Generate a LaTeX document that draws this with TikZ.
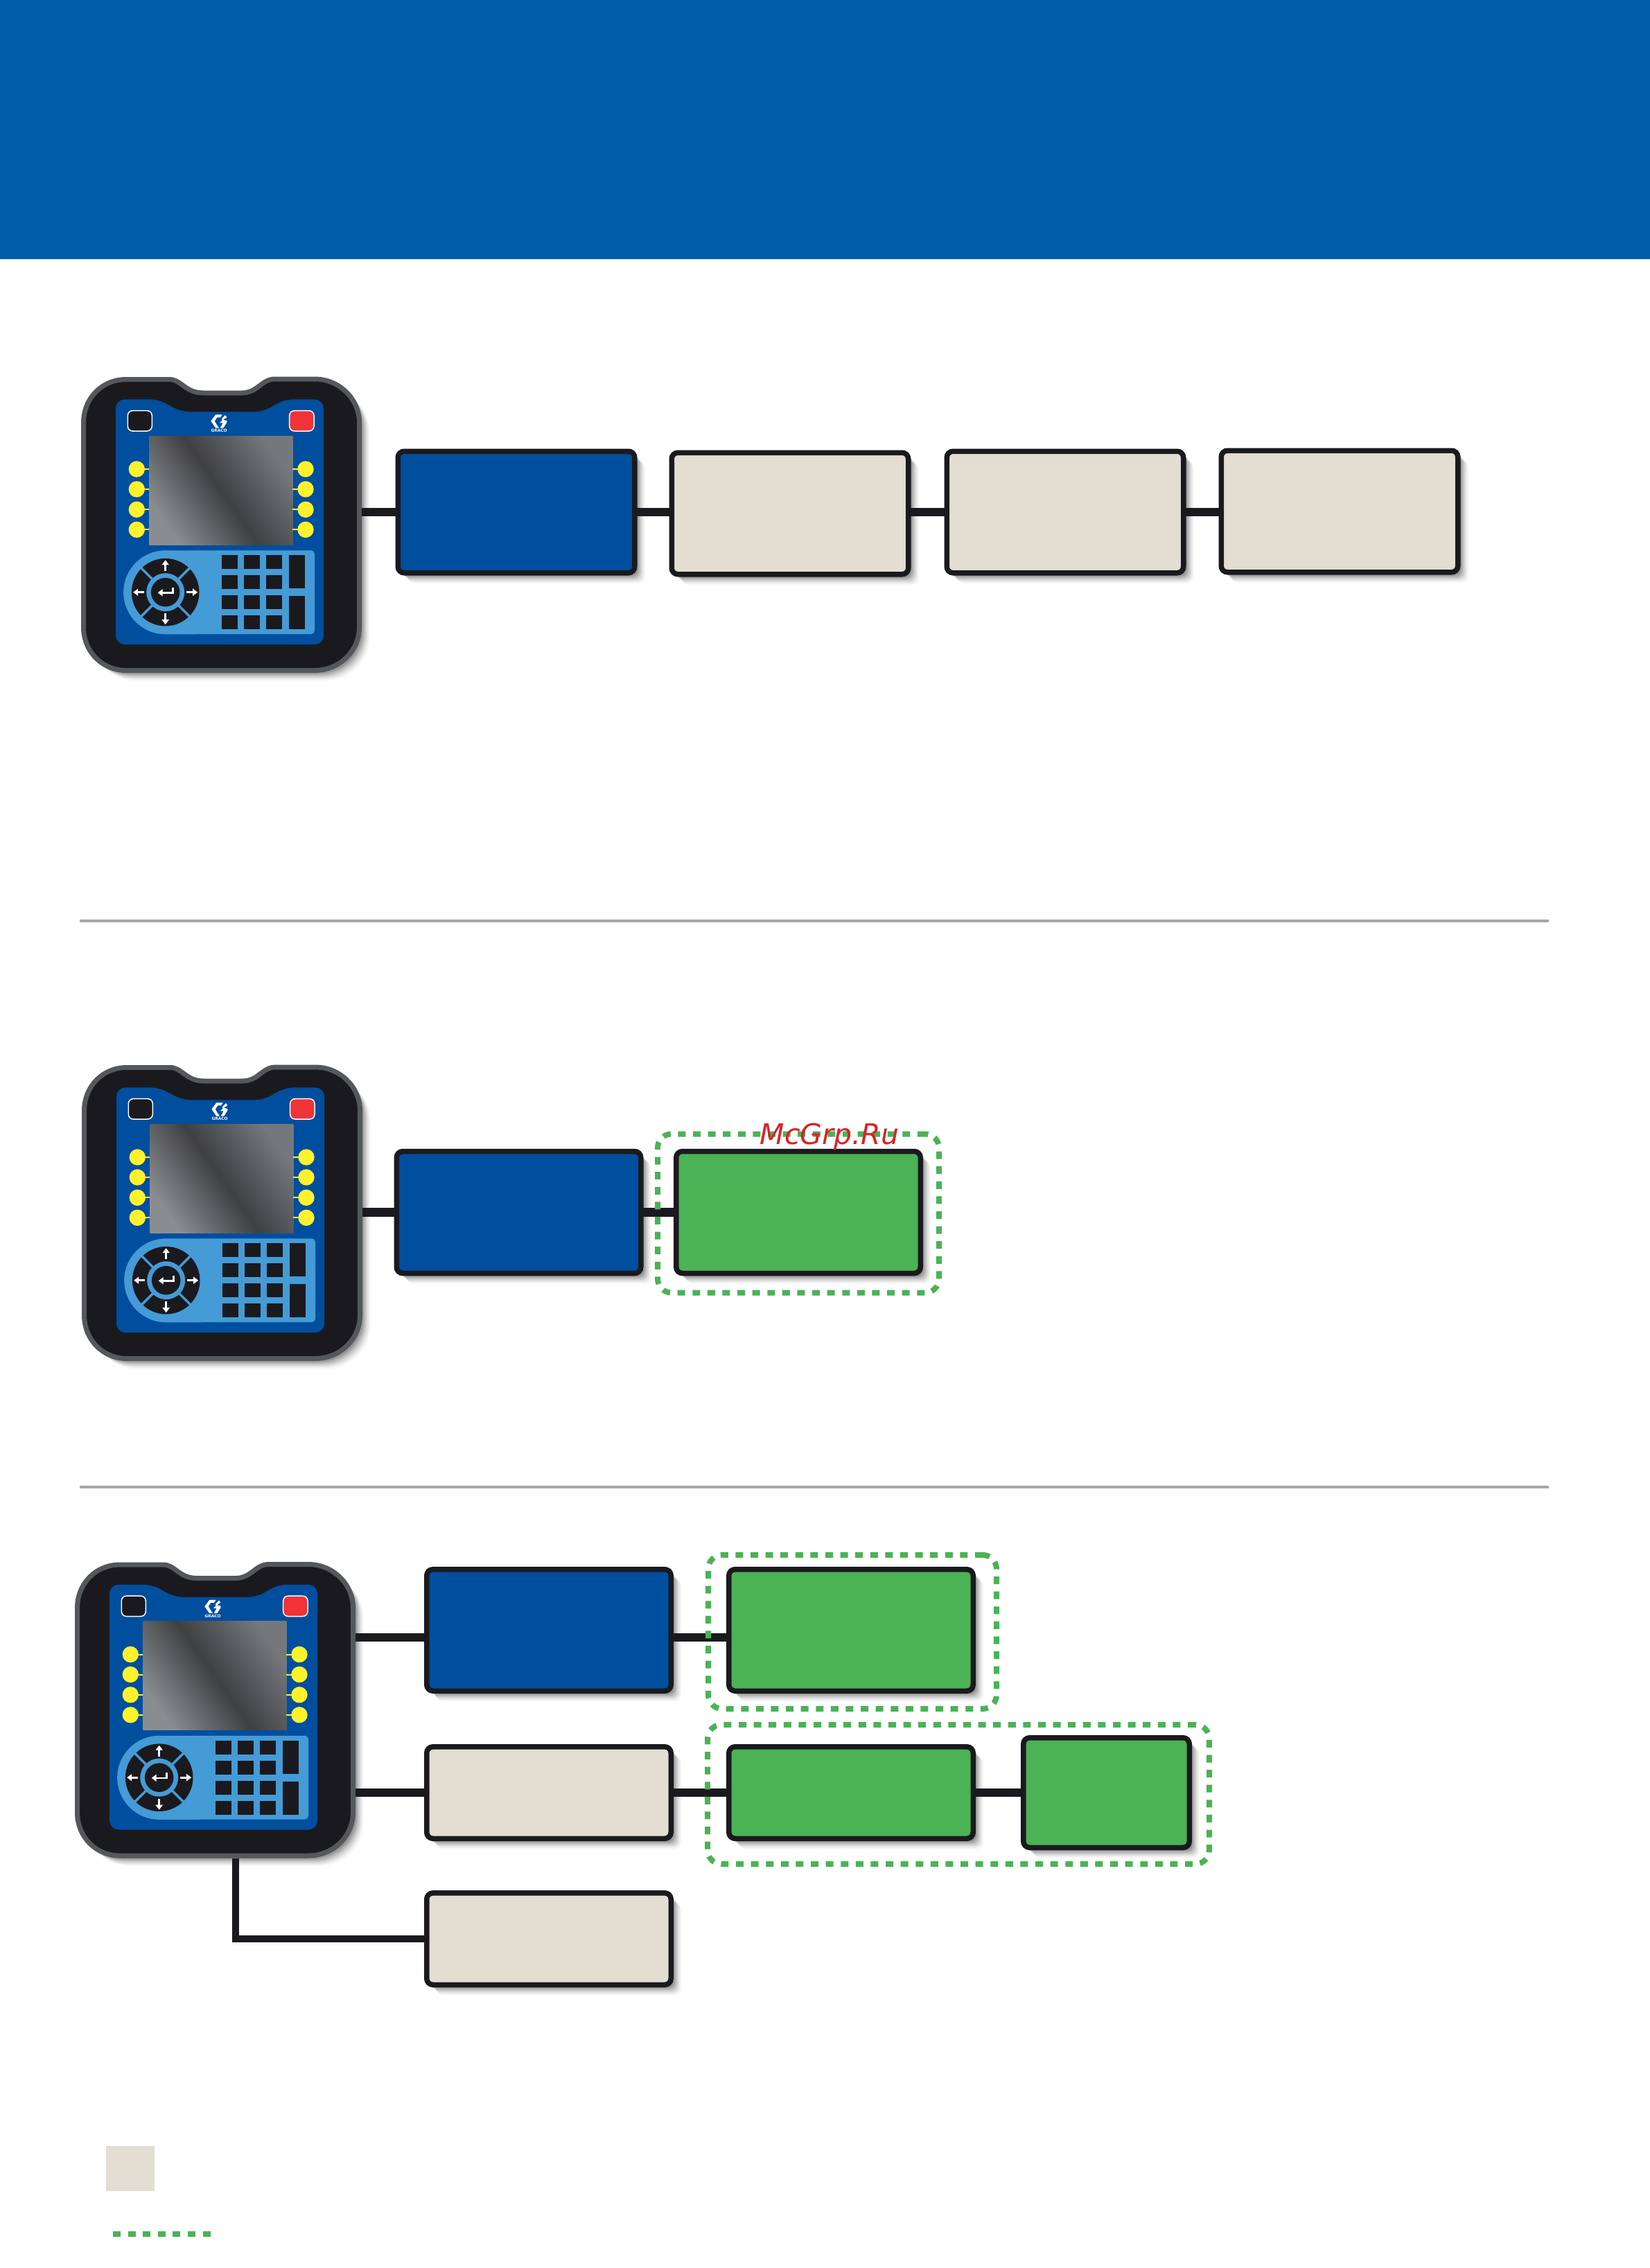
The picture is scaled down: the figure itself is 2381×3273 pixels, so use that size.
\documentclass[tikz,border=0pt]{standalone}
\usepackage{fontspec}
\setmainfont{DejaVu Sans}
\usetikzlibrary{arrows.meta,shadows}
\definecolor{headblue}{HTML}{005DAA}
\definecolor{unitblue}{HTML}{004E9E}
\definecolor{kitgreen}{HTML}{4BB255}
\definecolor{creambox}{HTML}{E3DDD2}
\definecolor{inkblack}{HTML}{1A1A1E}
\definecolor{shellgray}{HTML}{55585B}
\definecolor{keyblue}{HTML}{459BD6}
\definecolor{softkey}{HTML}{FFF22D}
\definecolor{stopred}{HTML}{EF3338}
\definecolor{rulegray}{HTML}{A5A7AA}
\definecolor{markred}{HTML}{D8232A}
\definecolor{screentop}{HTML}{74787B}
\definecolor{screenlow}{HTML}{8A8D90}
\definecolor{screenmid}{HTML}{3E4042}
\tikzset{
softshade/.style={
  general shadow={shadow xshift=3pt,shadow yshift=-3pt,fill=black,opacity=.15},
  general shadow={shadow xshift=5pt,shadow yshift=-5pt,fill=black,opacity=.13},
  general shadow={shadow xshift=7pt,shadow yshift=-7pt,fill=black,opacity=.11},
  general shadow={shadow xshift=9pt,shadow yshift=-9pt,fill=black,opacity=.09},
  general shadow={shadow xshift=11pt,shadow yshift=-11pt,fill=black,opacity=.07},
  general shadow={shadow xshift=13pt,shadow yshift=-13pt,fill=black,opacity=.05},
  general shadow={shadow xshift=15pt,shadow yshift=-15pt,fill=black,opacity=.03}},
modbox/.style={draw=inkblack, line width=7.5pt, rounded corners=9pt, inner sep=0pt, outer sep=0pt, softshade},
bluebox/.style={modbox, fill=unitblue},
creamunit/.style={modbox, fill=creambox},
greenbox/.style={modbox, fill=kitgreen},
kitgroup/.style={draw=kitgreen, line width=8pt, dash pattern=on 11pt off 10.6pt, rounded corners=20pt, inner sep=0pt, outer sep=0pt},
kitline/.style={draw=kitgreen, line width=8pt, dash pattern=on 11pt off 10.6pt},
link/.style={draw=inkblack, line width=12.5pt},
pics/handset/.style={code={
  \node[minimum width=405pt, minimum height=428pt, inner sep=0pt, outer sep=0pt] (-shell) at (202.5,214) {};
  \path[fill=inkblack, draw=shellgray, line width=7pt, softshade] (3.5,67) .. controls (3.5,32) and (30,4.5) .. (65,4.5) -- (127,4.5) .. controls (145,4.5) and (150,24) .. (176,24) -- (232,24) .. controls (255,24) and (260,4) .. (280,4) -- (337,4) .. controls (372,4) and (401.5,32) .. (401.5,67) -- (401.5,362) .. controls (401.5,397) and (372,424.5) .. (337,424.5) -- (65,424.5) .. controls (30,424.5) and (3.5,397) .. (3.5,362) -- cycle;
  % panel
  \fill[unitblue, rounded corners=13pt] (50,33.3) -- (111.7,33.3) -- (144,51.3) -- (263,51.3) -- (293,33.3) -- (350,33.3) -- (350,387) -- (50,387) -- cycle;
  \draw[white, line width=1.5pt, fill=inkblack, rounded corners=7pt] (67.3,49.7) rectangle (102.3,79);
  \draw[white, line width=1.5pt, fill=stopred, rounded corners=7pt] (300.7,49.7) rectangle (336,79);
  % logo
  \fill[white] (187.3,64.7) -- (194.3,55.3) -- (203.7,55.3) -- (201,59.3) -- (196.3,59.3) -- (192.7,64.7) -- (196.3,70.7) -- (199,74.7) -- (194.3,74.7) -- cycle;
  \fill[white] (208,56) -- (210.3,59.3) -- (205,62.7) -- (210.3,64) -- (210.3,66.7) -- (205.3,74.7) -- (200.7,74.7) -- (204.7,67.3) -- (200,67.3) -- (203.3,64) -- (203,61) -- cycle;
  \node[white, inner sep=0pt, font=\bfseries\fontsize{5.8}{5.8}\selectfont] at (199,78.7) {GRACO};
  \shade[top color=screentop, bottom color=screenlow, middle color=screenmid, shading angle=-55] (98.3,86.3) rectangle (305.3,243.3);
  % soft keys
  \foreach \ky in {134,163,192.3,221.3} {
    \draw[softkey, line width=2pt] (80.3,\ky) -- (98.3,\ky);
    \draw[softkey, line width=2pt] (305.3,\ky) -- (324,\ky);
    \fill[softkey] (80.3,\ky) circle[radius=11.7pt];
    \fill[softkey] (324,\ky) circle[radius=11.7pt];
  }
  % keypad
  \fill[keyblue] (121.7,251.3) -- (332,251.3) arc[start angle=90, end angle=0, radius=5pt] -- (337,367) arc[start angle=0, end angle=-90, radius=5pt] -- (121.7,372.3) arc[start angle=270, end angle=90, radius=60.5pt] -- cycle;
  \fill[inkblack] (121.7,311.7) circle[radius=48.8pt];
  \foreach \a in {45,135,225,315}
    \draw[keyblue, line width=3.5pt] (121.7,311.7) -- ++(\a:50pt);
  \fill[keyblue] (121.7,311.7) circle[radius=27.5pt];
  \fill[inkblack] (121.7,311.7) circle[radius=20.8pt];
  \foreach \a in {0,90,180,270}
    \draw[white, line width=2.8pt, -{Triangle[length=7pt,width=10pt]}] (121.7,311.7) ++(\a:30.5pt) -- ++(\a:16pt);
  \draw[white, line width=2.6pt, -{Triangle[length=7pt,width=10pt]}] (132.7,304.7) -- (132.7,312.3) -- (110.7,312.3);
  \foreach \kx in {203.3,235.3,267.3}
    \foreach \ky in {258.3,287.3,316.3,345.3}
      \fill[inkblack] (\kx,\ky) rectangle ++(23,20);
  \fill[inkblack] (300.3,258.3) rectangle (323.3,306.3);
  \fill[inkblack] (300.3,317.3) rectangle (323.3,365.3);
}}
}
\begin{document}
\begin{tikzpicture}[x=1pt,y=-1pt]
\useasboundingbox (0,0) rectangle (2381,3273);
\fill[headblue] (0,0) rectangle (2381,374);
\draw[rulegray, line width=4pt] (115,1329) -- (2235,1329);
\draw[rulegray, line width=4pt] (115,2146) -- (2235,2146);
% top row
\pic (dev1) at (117,543) {handset};
\node[bluebox, minimum width=341.5pt, minimum height=175.5pt] (top1) at (745,739) {};
\node[creamunit, minimum width=341.5pt, minimum height=175.5pt] (top2) at (1140,741) {};
\node[creamunit, minimum width=341.5pt, minimum height=175.5pt] (top3) at (1537,739) {};
\node[creamunit, minimum width=341.5pt, minimum height=175.5pt] (top4) at (1933,738) {};
\draw[link] (top1.west -| dev1-shell.east) -- (top1.west);
\draw[link] (top1.east) -- (top1.east -| top2.west);
\draw[link] (top2.east |- top3.west) -- (top3.west);
\draw[link] (top3.east) -- (top4.west |- top3.east);
% middle row
\pic (dev2) at (118,1536) {handset};
\node[bluebox, minimum width=352.5pt, minimum height=176pt] (mid1) at (748.5,1749.5) {};
\node[greenbox, minimum width=352.5pt, minimum height=176pt] (mid2) at (1152,1749.5) {};
\draw[link] (mid1.west -| dev2-shell.east) -- (mid1.west);
\draw[link] (mid1.east) -- (mid2.west);
\node[kitgroup, minimum width=406pt, minimum height=229pt] (grp1) at (1152,1751) {};
\node[text=markred, font=\itshape\fontsize{41}{41}\selectfont, inner sep=0pt] (mark) at (1197,1641) {McGrp.Ru};
% bottom rows
\pic (dev3) at (108,2253.5) {handset};
\node[bluebox, minimum width=352.5pt, minimum height=175.5pt] (low1) at (792,2352.5) {};
\node[greenbox, minimum width=352.5pt, minimum height=175.5pt] (low2) at (1228,2352.5) {};
\node[creamunit, minimum width=352.5pt, minimum height=132.5pt] (low3) at (792,2587) {};
\node[greenbox, minimum width=352.5pt, minimum height=132.5pt] (low4) at (1228,2587) {};
\node[greenbox, minimum width=239.5pt, minimum height=158.5pt] (low5) at (1596.5,2587) {};
\node[creamunit, minimum width=352.5pt, minimum height=132.5pt] (low6) at (792,2798) {};
\coordinate (drop) at (340,2798);
\draw[link] ([yshift=-10.5pt]low1.west -| dev3-shell.east) -- ([yshift=-10.5pt]low1.west);
\draw[link] ([yshift=-10.5pt]low1.east) -- ([yshift=-10.5pt]low2.west);
\draw[link] (low3.west -| dev3-shell.east) -- (low3.west);
\draw[link] (low3.east) -- (low4.west);
\draw[link] (low4.east) -- (low5.west);
\draw[link, line width=10.5pt] (dev3-shell.south -| drop) -- (drop) -- (low6.west);
\node[kitgroup, minimum width=416pt, minimum height=222pt] (grp2) at (1230,2355) {};
\node[kitgroup, minimum width=724pt, minimum height=201pt] (grp3) at (1383,2589.5) {};
% legend
\fill[creambox] (153,3097) rectangle (223,3162);
\coordinate (keyA) at (163,3224);
\coordinate (keyB) at (308,3224);
\draw[kitline] (keyA) -- (keyB);
\end{tikzpicture}
\end{document}
